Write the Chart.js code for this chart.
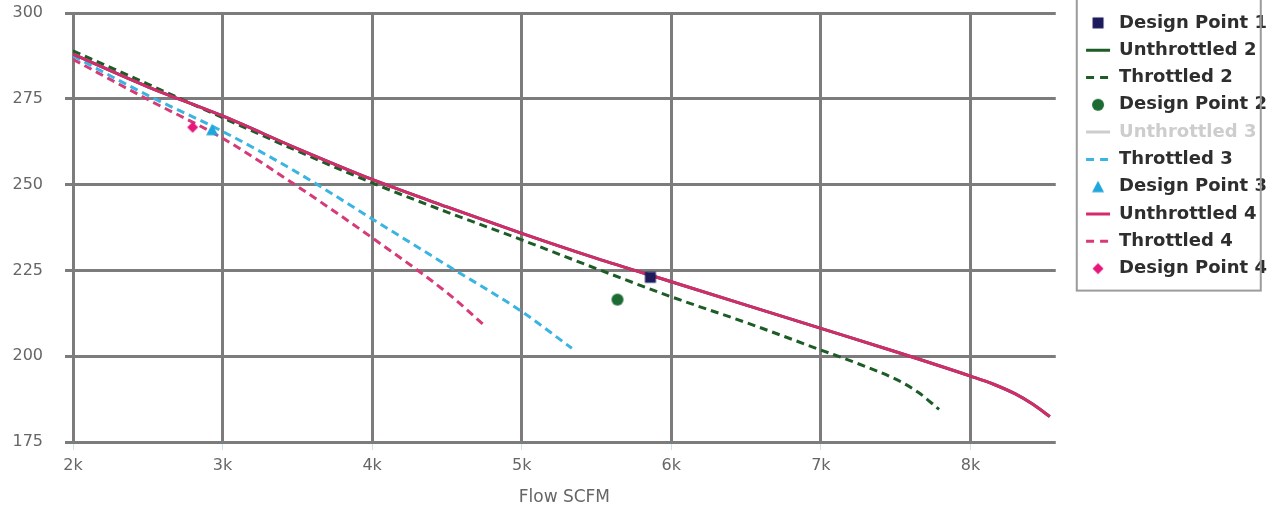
<!DOCTYPE html>
<html>
<head>
<meta charset="utf-8">
<title>Flow SCFM</title>
<script src="https://cdn.jsdelivr.net/npm/chart.js@4.4.1/dist/chart.umd.min.js"></script>
<style>
  html, body { margin: 0; padding: 0; background: #fff; overflow: hidden; }
  /* canvas sits a little above the page so the top of the legend runs off it */
  #wrap { position: absolute; left: 0; top: -50px; width: 1287px; height: 566px; }
</style>
</head>
<body>
<div id="wrap"><canvas id="fanCurves"></canvas></div>
<script>
// axis ticks
const flowTicks = [2000, 3000, 4000, 5000, 6000, 7000, 8000];
const headTicks = [175, 200, 225, 250, 275, 300];

// curve 1 and the unthrottled curve 3 are switched off, no points kept
const unthrottled1Flow = [];
const unthrottled1Head = [];
const throttled1Flow = [];
const throttled1Head = [];
const unthrottled3Flow = [];
const unthrottled3Head = [];

const unthrottled2Flow = [2000, 2500, 3000, 3500, 4000, 4500, 5000, 5500, 6000, 6500, 7000, 7500, 8000, 8150, 8300, 8420, 8530];
const unthrottled2Head = [288, 278.5, 270, 260.5, 251.5, 243.5, 235.8, 228.5, 221.7, 214.9, 208.1, 201.3, 194.2, 191.9, 189, 185.9, 182.4];

const throttled2Flow = [2000, 2500, 3000, 3500, 4000, 4500, 5000, 5500, 6000, 6500, 7000, 7250, 7500, 7650, 7790];
const throttled2Head = [289, 279.3, 269.5, 259.8, 250.5, 242, 233.9, 225.5, 217.3, 209.8, 201.8, 197.8, 193.3, 189.5, 184.5];

const throttled3Flow = [2000, 2500, 3000, 3500, 4000, 4500, 5000, 5335];
const throttled3Head = [287.5, 276, 265.5, 253.5, 240, 226.5, 213, 202.3];

const unthrottled4Flow = [2000, 2500, 3000, 3500, 4000, 4500, 5000, 5500, 6000, 6500, 7000, 7500, 8000, 8150, 8300, 8420, 8530];
const unthrottled4Head = [288, 278.5, 270, 260.5, 251.5, 243.5, 235.8, 228.5, 221.7, 214.9, 208.1, 201.3, 194.2, 191.9, 189, 185.9, 182.4];

const throttled4Flow = [2000, 2500, 3000, 3500, 4000, 4500, 4760];
const throttled4Head = [286.5, 274.8, 263.5, 249.5, 234.5, 218.5, 208.6];

// design points [flow, head]
const designPoint1 = [5860, 223];
const designPoint2 = [5640, 216.5];
const designPoint3 = [2930, 266];
const designPoint4 = [2800, 266.7];

Chart.defaults.font.family = "'DejaVu Sans', sans-serif";
Chart.defaults.color = '#666';

// small canvas marker used both on the plot and in the legend
function marker(shape, color) {
  const c = document.createElement('canvas');
  c.width = c.height = 14;
  const g = c.getContext('2d');
  g.fillStyle = color;
  g.beginPath();
  if (shape === 'square') g.rect(1.5, 1.5, 11, 11);
  else if (shape === 'circle') g.arc(7, 7, 6, 0, Math.PI * 2);
  else if (shape === 'triangle') { g.moveTo(7, 1); g.lineTo(13, 12.5); g.lineTo(1, 12.5); g.closePath(); }
  else { g.moveTo(7, 1.5); g.lineTo(12.5, 7); g.lineTo(7, 12.5); g.lineTo(1.5, 7); g.closePath(); }
  g.fill();
  return c;
}

const toXY = (xs, ys) => xs.map((x, i) => ({ x: x, y: ys[i] }));

function curve(label, xs, ys, color, dashed, hidden, order) {
  return {
    label: label,
    data: toXY(xs, ys),
    showLine: true,
    borderColor: color,
    backgroundColor: color,
    borderWidth: 3,
    borderDash: dashed ? [8, 5] : [],
    pointRadius: 0,
    pointHoverRadius: 0,
    pointStyle: 'line',
    cubicInterpolationMode: 'monotone',
    hidden: hidden,
    order: order || 2
  };
}

function point(label, p, shape, color) {
  return {
    label: label,
    data: [{ x: p[0], y: p[1] }],
    showLine: false,
    pointStyle: marker(shape, color),
    pointRadius: 6,
    pointHoverRadius: 6,
    backgroundColor: color,
    borderColor: color,
    order: 0
  };
}

// frame round the legend entries
const legendFrame = {
  id: 'legendFrame',
  afterDraw(chart) {
    const lg = chart.legend;
    if (!lg || !lg.legendHitBoxes || !lg.legendHitBoxes.length) return;
    const boxes = lg.legendHitBoxes;
    const last = boxes[boxes.length - 1];
    const ctx = chart.ctx;
    const bottom = last.top + last.height + 13;
    ctx.save();
    ctx.strokeStyle = '#9b9b9b';
    ctx.lineWidth = 2;
    ctx.strokeRect(lg.left, lg.top - 5, 184, bottom - lg.top + 5);
    ctx.restore();
  }
};

new Chart(document.getElementById('fanCurves'), {
  type: 'scatter',
  data: {
    datasets: [
      curve('Unthrottled 1', unthrottled1Flow, unthrottled1Head, '#1f1d63', false, true),
      curve('Throttled 1', throttled1Flow, throttled1Head, '#1f1d63', true, true),
      point('Design Point 1', designPoint1, 'square', '#1e1b5c'),
      curve('Unthrottled 2', unthrottled2Flow, unthrottled2Head, '#1d5c26', false, false),
      curve('Throttled 2', throttled2Flow, throttled2Head, '#1d5c26', true, false),
      point('Design Point 2', designPoint2, 'circle', '#1c6b32'),
      curve('Unthrottled 3', unthrottled3Flow, unthrottled3Head, '#3ab5e2', false, true),
      curve('Throttled 3', throttled3Flow, throttled3Head, '#3ab5e2', true, false),
      point('Design Point 3', designPoint3, 'triangle', '#1fa6dc'),
      curve('Unthrottled 4', unthrottled4Flow, unthrottled4Head, '#d42a6e', false, false, 1),
      curve('Throttled 4', throttled4Flow, throttled4Head, '#d63a78', true, false),
      point('Design Point 4', designPoint4, 'diamond', '#e6177a')
    ]
  },
  options: {
    responsive: true,
    maintainAspectRatio: false,
    animation: false,
    events: [],
    layout: { padding: { left: 12, right: 10, top: 0, bottom: 4 } },
    scales: {
      x: {
        type: 'linear',
        min: flowTicks[0],
        max: 8570,
        afterBuildTicks: s => { s.ticks = flowTicks.map(v => ({ value: v })); },
        afterFit: s => { s.height = 70; },
        ticks: { padding: 6, font: { size: 16 }, color: '#666', callback: v => (v / 1000) + 'k' },
        grid: { color: '#7c7c7c', lineWidth: 3, tickColor: 'rgba(150, 200, 230, 0.5)', tickWidth: 1, tickLength: 8 },
        border: { display: false },
        title: { display: true, text: 'Flow SCFM', color: '#666', font: { size: 17 }, padding: { top: 12, bottom: 4 } }
      },
      y: {
        min: headTicks[0],
        max: headTicks[headTicks.length - 1],
        afterBuildTicks: s => { s.ticks = headTicks.map(v => ({ value: v })); },
        afterFit: s => { s.width = 61; },
        ticks: { padding: 22, font: { size: 16 }, color: '#666' },
        grid: { color: '#7c7c7c', lineWidth: 3, tickLength: 8 },
        border: { display: false }
      },
      // empty axis that keeps a gap between the plot and the legend
      gap: {
        type: 'linear',
        position: 'right',
        grid: { display: false },
        ticks: { display: false },
        border: { display: false },
        afterFit: s => { s.width = 21; }
      }
    },
    plugins: {
      title: { display: true, text: ' ', fullSize: false, font: { size: 10, lineHeight: 1 }, padding: { top: 53, bottom: 0 } },
      tooltip: { enabled: false },
      legend: {
        position: 'right',
        align: 'start',
        labels: {
          usePointStyle: true,
          pointStyleWidth: 24,
          boxHeight: 18,
          padding: 9.3,
          font: { size: 18, weight: 'bold' },
          color: '#333',
          generateLabels(chart) {
            return chart.data.datasets.map((ds, i) => {
              const off = !!ds.hidden;
              return {
                text: ds.label,
                datasetIndex: i,
                hidden: false,
                fontColor: off ? '#cdcdcd' : '#2e2e2e',
                strokeStyle: off ? '#cdcdcd' : ds.borderColor,
                fillStyle: ds.backgroundColor,
                lineWidth: 3,
                lineDash: ds.borderDash && ds.borderDash.length ? [8, 6] : [],
                pointStyle: ds.pointStyle,
                rotation: 0
              };
            });
          }
        }
      }
    }
  },
  plugins: [legendFrame]
});
</script>
</body>
</html>
